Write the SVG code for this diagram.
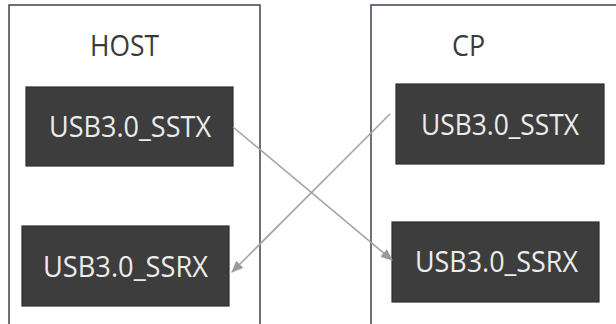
<svg xmlns="http://www.w3.org/2000/svg" width="616" height="324" viewBox="0 0 616 324">
  <style>
    .frame { fill: #ffffff; stroke: #4b4c5c; stroke-width: 1.6; }
    .port { fill: #3d3d3d; stroke: #2c2d36; stroke-width: 1.2; }
    .title { font-family: "Open Sans", "Noto Sans", sans-serif; font-size: 29px; fill: #3a3a3a; text-anchor: start; }
    .label { font-family: "Open Sans", "Noto Sans", sans-serif; font-size: 29px; fill: #ececec; text-anchor: start; }
    .link { stroke: #a3a3a3; stroke-width: 1.6; fill: none; marker-end: url(#head); }
  </style>
  <defs>
    <marker id="head" viewBox="0 0 12 10" refX="11" refY="5" markerWidth="12" markerHeight="10" markerUnits="userSpaceOnUse" orient="auto">
      <path d="M0,0 L12,5 L0,10 Z" fill="#9a9a9a"/>
    </marker>
  </defs>
  <rect width="616" height="324" fill="#ffffff"/>

  <g id="host">
    <rect class="frame" x="9" y="5" width="251" height="330"/>
    <text class="title" x="90" y="56" textLength="69" lengthAdjust="spacingAndGlyphs">HOST</text>
  </g>
  <g id="cp">
    <rect class="frame" x="371" y="5" width="260" height="330"/>
    <text class="title" x="452" y="56" textLength="33" lengthAdjust="spacingAndGlyphs">CP</text>
  </g>

  <g id="host-sstx">
    <rect class="port" x="26" y="87" width="207" height="79"/>
    <text class="label" x="49" y="137" textLength="162" lengthAdjust="spacingAndGlyphs">USB3.0_SSTX</text>
  </g>
  <g id="host-ssrx">
    <rect class="port" x="22" y="226" width="207" height="80"/>
    <text class="label" x="43" y="277" textLength="165" lengthAdjust="spacingAndGlyphs">USB3.0_SSRX</text>
  </g>
  <g id="cp-sstx">
    <rect class="port" x="396" y="84" width="208" height="80"/>
    <text class="label" x="421" y="135" textLength="158" lengthAdjust="spacingAndGlyphs">USB3.0_SSTX</text>
  </g>
  <g id="cp-ssrx">
    <rect class="port" x="392" y="222" width="207" height="80"/>
    <text class="label" x="415" y="272" textLength="163" lengthAdjust="spacingAndGlyphs">USB3.0_SSRX</text>
  </g>

  <g id="connectors">
    <line class="link" x1="233" y1="127" x2="392" y2="260"/>
    <line class="link" x1="390" y1="114" x2="232" y2="272"/>
  </g>
</svg>
